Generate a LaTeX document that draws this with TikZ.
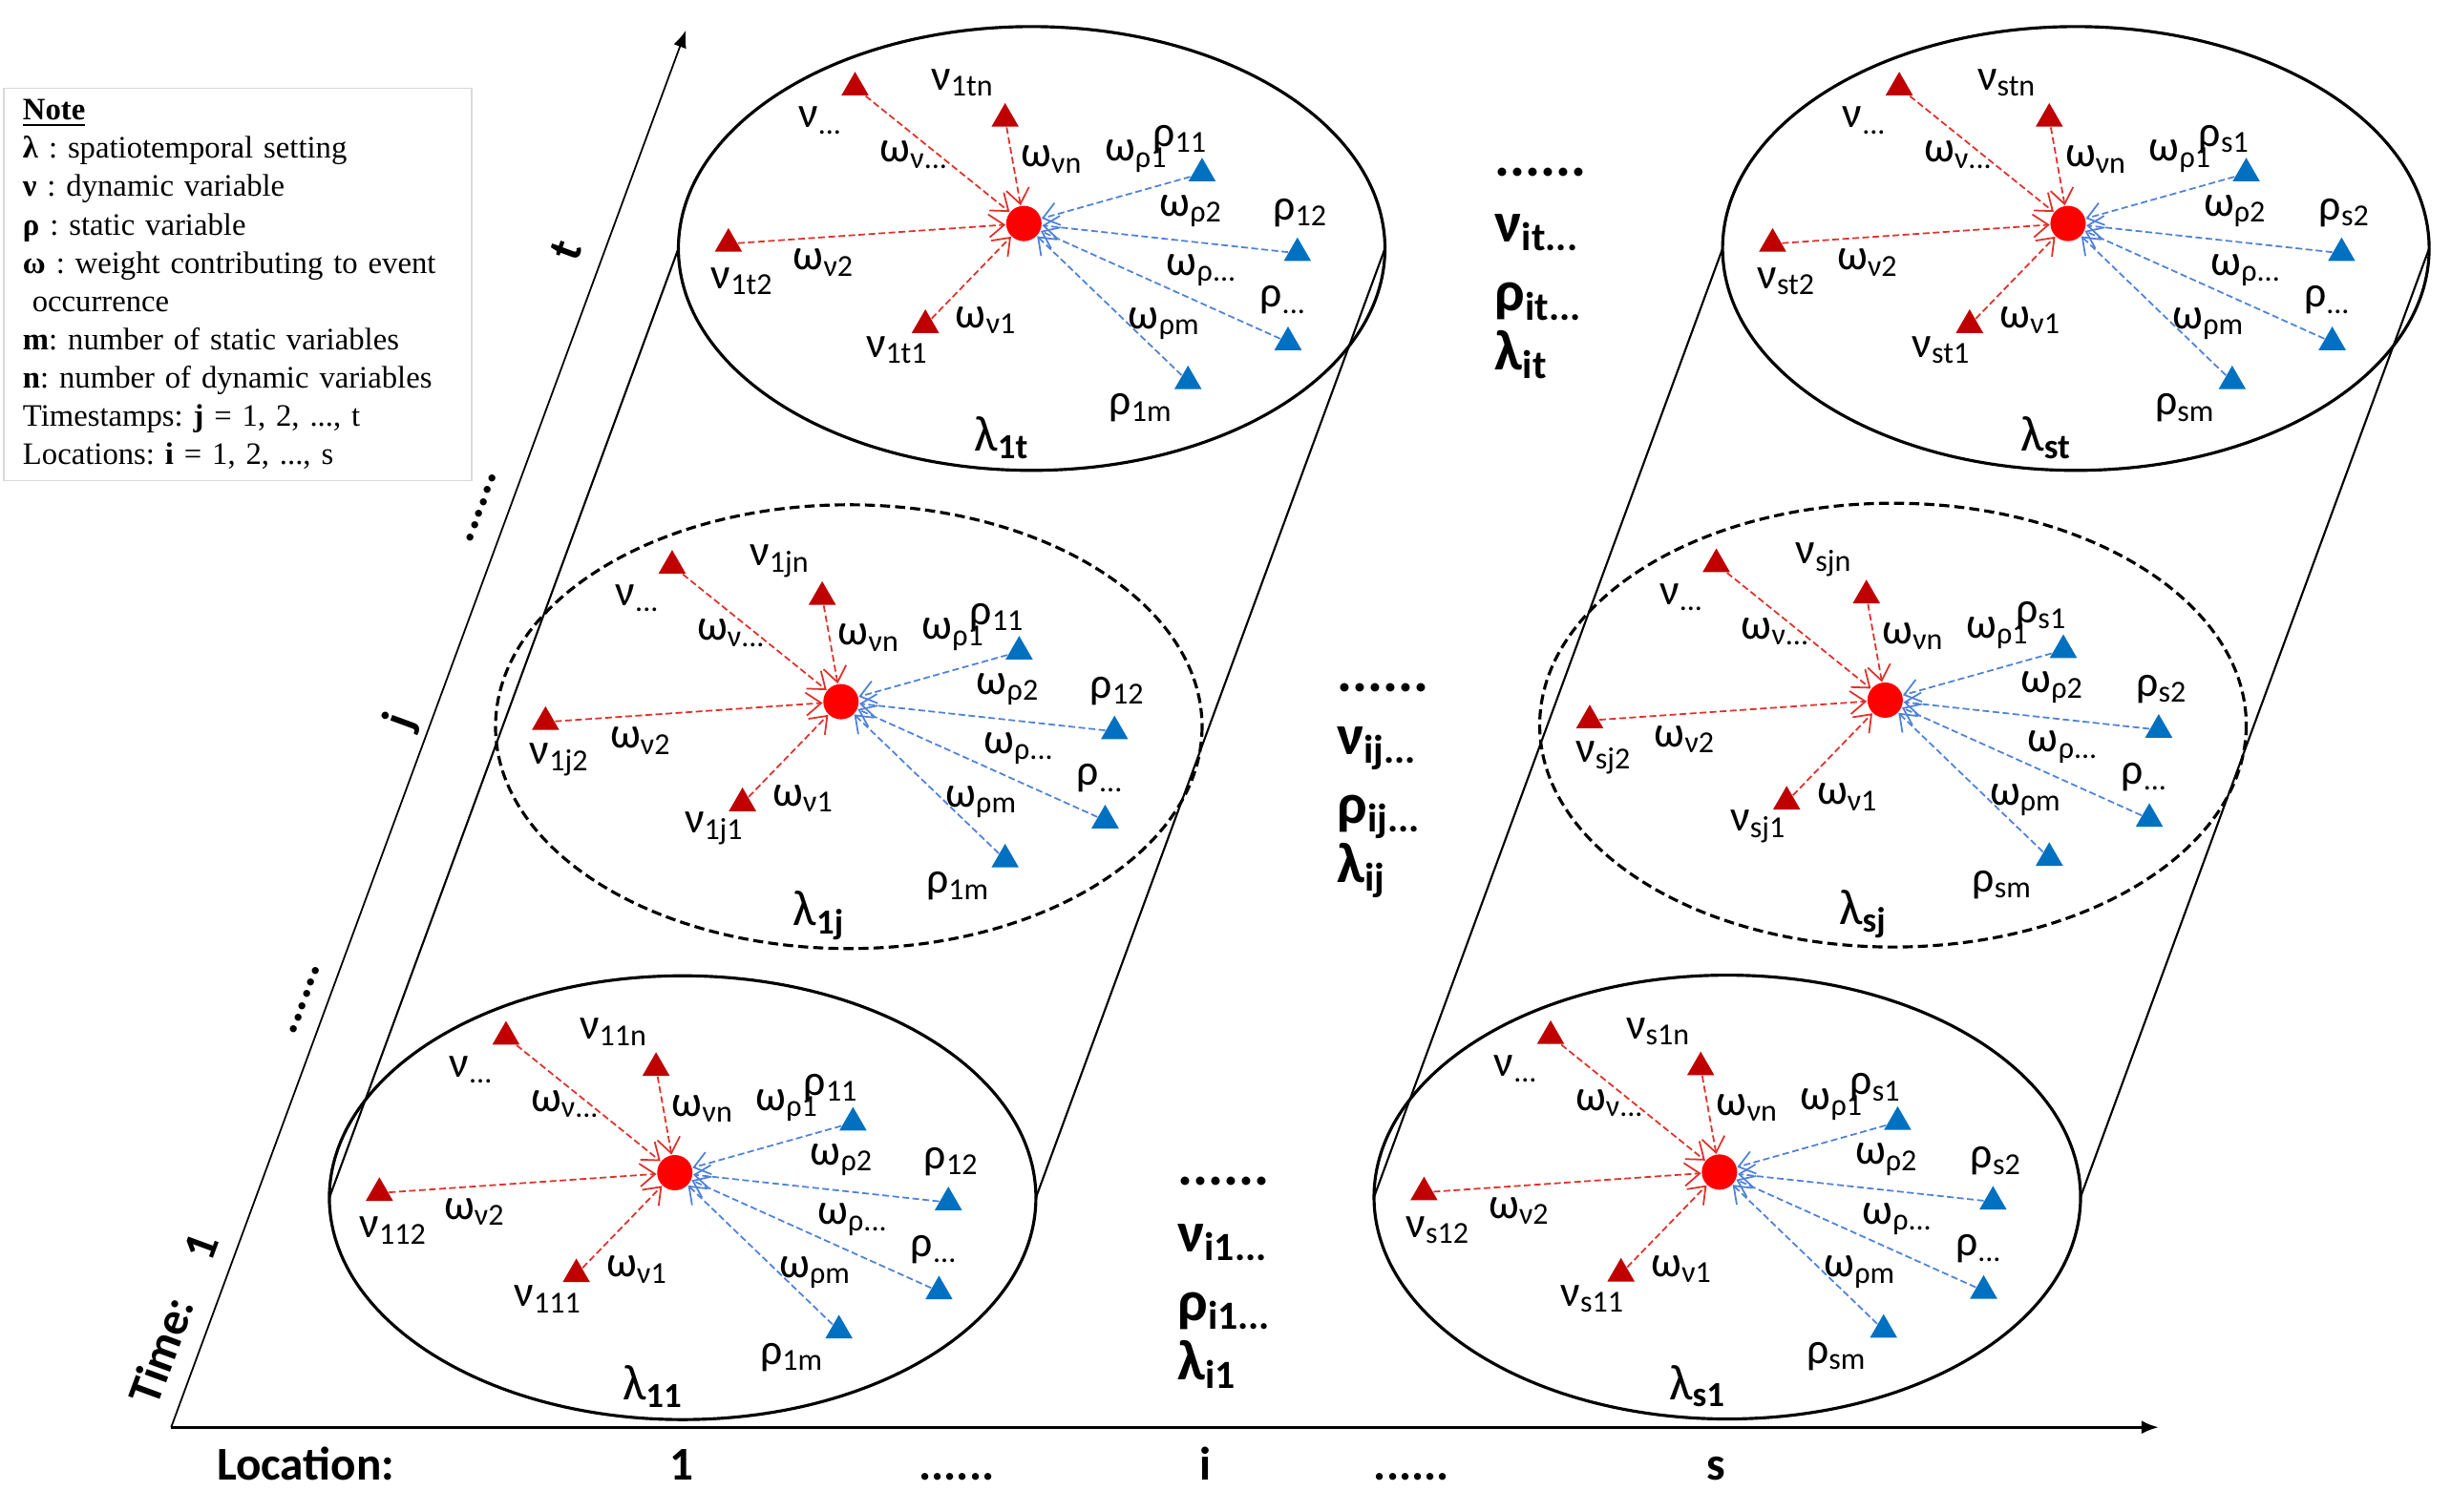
\documentclass[tikz,border=0pt]{standalone}
\usepackage{fontspec}
\setmainfont{Carlito}
\newfontfamily\notefont{Liberation Serif}
\usetikzlibrary{arrows.meta,shapes.geometric}

\definecolor{dynred}{HTML}{C00000}
\definecolor{statblue}{HTML}{0070C0}
\definecolor{evred}{HTML}{FF0000}
\definecolor{dynline}{HTML}{E0302A}
\definecolor{statline}{HTML}{4F81D9}
\definecolor{notegray}{HTML}{D9D9D9}

\tikzset{
  evdot/.style={circle, fill=evred, minimum size=3.7mm, inner sep=0pt},
  dyntri/.style={regular polygon, regular polygon sides=3, fill=dynred,
    minimum size=3.3mm, inner sep=0pt},
  stattri/.style={dyntri, fill=statblue},
  dynarrow/.style={draw=dynline, dash pattern=on 2pt off 1pt, line width=0.5pt,
    -{Straight Barb[length=1.6mm,width=2.4mm]}},
  statarrow/.style={dynarrow, draw=statline},
  setting/.style={draw=black, line width=0.9pt},
  dsetting/.style={setting, dash pattern=on 3pt off 1.5pt},
  cylline/.style={draw=black, line width=0.6pt},
  timeaxis/.style={draw=black, line width=0.5pt, -{Latex[length=1.8mm,width=1.4mm]}},
  locaxis/.style={draw=black, line width=0.8pt, -{Latex[length=1.8mm,width=1.4mm]}},
  varlbl/.style={font=\fontsize{13}{15}\selectfont, inner sep=0pt},
  lamlbl/.style={font=\fontsize{15}{17}\selectfont, inner sep=0pt},
  midlbl/.style={font=\fontsize{17}{19}\selectfont\bfseries, inner sep=0pt, anchor=west},
  axislbl/.style={font=\fontsize{14}{16}\selectfont\bfseries, inner sep=0pt},
  notebox/.style={draw=notegray, line width=0.4pt, anchor=north west, align=left,
    text width=45mm, inner xsep=2mm, inner ysep=1.2mm,
    font=\notefont\fontsize{9.3}{11.4}\selectfont\frenchspacing},
}

% one spatiotemporal setting: name, x, y, index, location, ellipse style
\newcommand{\stcluster}[6]{%
  \begin{scope}[shift={(#2,#3)}]
    \draw[#6] (5,16) ellipse [x radius=226, y radius=142];
    \coordinate (#1-w) at (-221,16);
    \coordinate (#1-e) at (231,16);
    \node[evdot] (#1-dot) at (0,0) {};
    % dynamic variables
    \node[dyntri] (#1-vd) at (-108,-87) {};
    \node[dyntri] (#1-vn) at (-12,-67) {};
    \node[dyntri] (#1-v2) at (-189,13) {};
    \node[dyntri] (#1-v1) at (-63,65) {};
    % static variables
    \node[stattri] (#1-p1) at (114,-32) {};
    \node[stattri] (#1-p2) at (175,19) {};
    \node[stattri] (#1-pd) at (169,76) {};
    \node[stattri] (#1-pm) at (105,101) {};
    \foreach \dv in {vd,vn,v2,v1} \draw[dynarrow] (#1-\dv) -- (#1-dot);
    \foreach \sv in {p1,p2,pd,pm} \draw[statarrow] (#1-\sv) -- (#1-dot);
    % labels
    \node[varlbl] (#1-nvn) at (-39,-90) {ν\textsubscript{#4n}};
    \node[varlbl] (#1-nvd) at (-130,-66) {ν\textsubscript{...}};
    \node[varlbl] (#1-nv2) at (-180,37) {ν\textsubscript{#42}};
    \node[varlbl] (#1-nv1) at (-81,81) {ν\textsubscript{#41}};
    \node[varlbl] (#1-np1) at (100,-54) {ρ\textsubscript{#51}};
    \node[varlbl] (#1-np2) at (177,-7) {ρ\textsubscript{#52}};
    \node[varlbl] (#1-npd) at (166,49) {ρ\textsubscript{...}};
    \node[varlbl] (#1-npm) at (75,118) {ρ\textsubscript{#5m}};
    \node[varlbl] (#1-wvd) at (-70,-44) {ω\textsubscript{ν...}};
    \node[varlbl] (#1-wvn) at (18,-41) {ω\textsubscript{νn}};
    \node[varlbl] (#1-wv2) at (-128,25) {ω\textsubscript{ν2}};
    \node[varlbl] (#1-wv1) at (-24,62) {ω\textsubscript{ν1}};
    \node[varlbl] (#1-wp1) at (72,-43) {ω\textsubscript{ρ1}};
    \node[varlbl] (#1-wp2) at (107,-8) {ω\textsubscript{ρ2}};
    \node[varlbl] (#1-wpd) at (114,30) {ω\textsubscript{ρ...}};
    \node[varlbl] (#1-wpm) at (90,64) {ω\textsubscript{ρm}};
    \node[lamlbl] (#1-lam) at (-14,137) {λ\textsubscript{\textbf{#4}}};
  \end{scope}}

\begin{document}
\begin{tikzpicture}[x=0.1637mm, y=-0.1637mm]
\useasboundingbox (0,0) rectangle (1568,967);

% legend
\node[notebox] (note) at (2,56) {\underline{\textbf{Note}}\\
  \textbf{λ} : spatiotemporal setting\\
  \textbf{ν} : dynamic variable\\
  \textbf{ρ} : static variable\\
  \textbf{ω} : weight contributing to event\\
  \hspace*{0.3em}occurrence\\
  \textbf{m}: number of static variables\\
  \textbf{n}: number of dynamic variables\\
  Timestamps: \textbf{j} = 1, 2, ..., t\\
  Locations: \textbf{i} = 1, 2, ..., s};

% axes
\coordinate (origin) at (109.5,913.3);
\coordinate (timeend) at (438.8,19.4);
\coordinate (locend) at (1381,913.3);
\draw[timeaxis] (origin) -- (timeend);
\draw[locaxis] (origin) -- (locend);

\node[axislbl, rotate=69.8] (time-lbl) at (103,864) {Time:};
\node[axislbl, rotate=69.8] (time-1) at (129,798) {1};
\node[axislbl, rotate=69.8] (time-d1) at (195,640) {......};
\node[axislbl, rotate=69.8] (time-j) at (257,462) {j};
\node[axislbl, rotate=69.8] (time-d2) at (308,325) {......};
\node[axislbl, rotate=69.8] (time-t) at (362,160) {t};

\node[axislbl, anchor=base] (loc-lbl) at (195.5,947) {Location:};
\node[axislbl, anchor=base] (loc-1) at (436,947) {1};
\node[axislbl, anchor=base] (loc-d1) at (612,947) {......};
\node[axislbl, anchor=base] (loc-i) at (771,947) {i};
\node[axislbl, anchor=base] (loc-d2) at (903,947) {......};
\node[axislbl, anchor=base] (loc-s) at (1098,947) {s};

% settings at location 1 and location s
\stcluster{c11}{431.7}{750.4}{11}{1}{setting}
\stcluster{c1j}{538}{449}{1j}{1}{dsetting}
\stcluster{c1t}{655}{143}{1t}{1}{setting}
\stcluster{cs1}{1100}{750}{s1}{s}{setting}
\stcluster{csj}{1206}{448}{sj}{s}{dsetting}
\stcluster{cst}{1323}{143}{st}{s}{setting}

% cylinders through time
\draw[cylline] (c11-w) -- (c1t-w);
\draw[cylline] (c11-e) -- (c1t-e);
\draw[cylline] (cs1-w) -- (cst-w);
\draw[cylline] (cs1-e) -- (cst-e);

% locations in between
\foreach \gx/\gy/\gi in {753/756/i1, 855/440/ij, 956/110/it}{
  \node[midlbl] (mid-\gi-dots) at (\gx,\gy) {......};
  \node[midlbl] (mid-\gi-nu) at (\gx,\gy+39) {ν\textsubscript{\gi...}};
  \node[midlbl] (mid-\gi-rho) at (\gx,\gy+83) {ρ\textsubscript{\gi...}};
  \node[midlbl] (mid-\gi-lam) at (\gx,\gy+117) {λ\textsubscript{\gi}};
}
\end{tikzpicture}
\end{document}
